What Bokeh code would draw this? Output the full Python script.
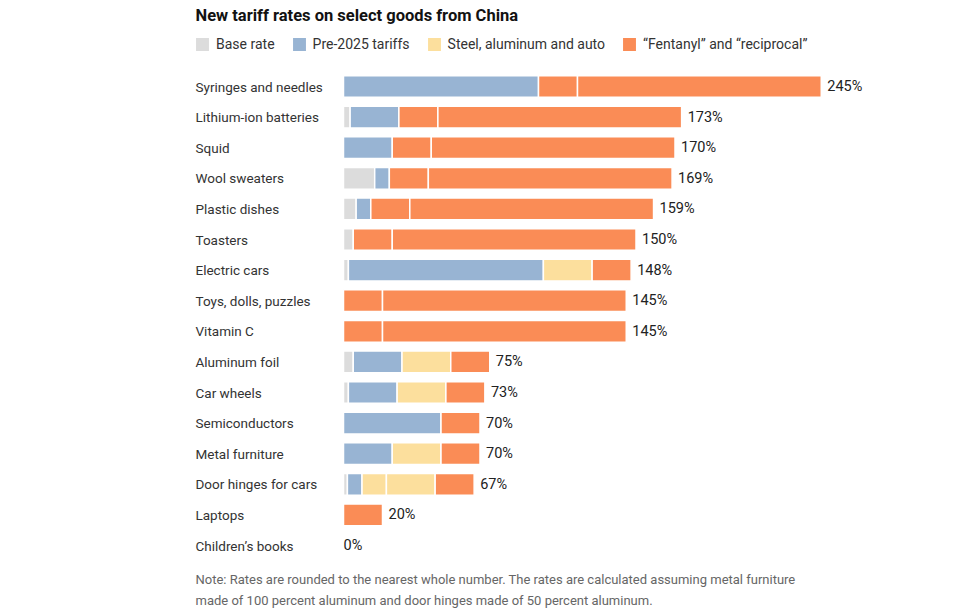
from bokeh.plotting import figure
from bokeh.models import Range1d, Label, Legend, LegendItem, ColumnDataSource
from bokeh.core.properties import value
from bokeh.embed import file_html
from bokeh.resources import INLINE

# ---------------- data ----------------
categories = ["Syringes and needles", "Lithium-ion batteries", "Squid", "Wool sweaters",
              "Plastic dishes", "Toasters", "Electric cars", "Toys, dolls, puzzles",
              "Vitamin C", "Aluminum foil", "Car wheels", "Semiconductors",
              "Metal furniture", "Door hinges for cars", "Laptops", "Children\u2019s books"]
base_rate  = [0, 3.4, 0, 16, 6.5, 5, 2.5, 0, 0, 5, 2.5, 0, 0, 2, 0, 0]
pre_2025   = [100, 25, 25, 7.5, 7.5, 0, 100, 0, 0, 25, 25, 50, 25, 7.5, 0, 0]
steel_alum = [0, 0, 0, 0, 0, 0, 0, 0, 0, 25, 0, 0, 25, 12.5, 0, 0]
auto       = [0, 0, 0, 0, 0, 0, 25, 0, 0, 0, 25, 0, 0, 25, 0, 0]
fentanyl   = [20, 20, 20, 20, 20, 20, 20, 20, 20, 20, 20, 20, 20, 20, 20, 0]
reciprocal = [125, 125, 125, 125, 125, 125, 0, 125, 125, 0, 0, 0, 0, 0, 0, 0]
total_labels = ["245%", "173%", "170%", "169%", "159%", "150%", "148%", "145%",
                "145%", "75%", "73%", "70%", "70%", "67%", "20%", "0%"]

series = [
    ("base", base_rate, "#dcdcdc"),
    ("pre", pre_2025, "#98b4d3"),
    ("steel", steel_alum, "#fcdf9d"),
    ("auto", auto, "#fcdf9d"),
    ("fent", fentanyl, "#fa8c56"),
    ("recip", reciprocal, "#fa8c56"),
]
legend_names = {"base": "Base rate", "pre": "Pre-2025 tariffs",
                "steel": "Steel, aluminum and auto",
                "fent": "\u201cFentanyl\u201d and \u201creciprocal\u201d"}

# ---------------- layout ----------------
W, H = 980, 614
PX = 1.95          # pixels per percentage point
X0 = 343           # pixel x of 0%
ROW0, STEP = 86, 30.6
FONT = "Roboto"
TXT = "#333333"

p = figure(width=W, height=H, output_backend="svg", toolbar_location=None,
           x_range=Range1d(-X0 / PX, (W - X0) / PX),
           y_range=Range1d((H - ROW0) / STEP, -ROW0 / STEP),
           x_axis_location=None, y_axis_location=None, min_border=0)
p.grid.visible = False
p.outline_line_color = None
p.background_fill_color = "white"
p.border_fill_color = "white"

n = len(categories)
idx = list(range(n))
cum = [0.0] * n
renderers = {}
for name, vals, color in series:
    ys, lefts, rights = [], [], []
    for i in idx:
        if vals[i] > 0:
            ys.append(i)
            lefts.append(cum[i])
            rights.append(cum[i] + vals[i])
        cum[i] += vals[i]
    src = ColumnDataSource(dict(y=ys, left=lefts, right=rights))
    r = p.hbar(y="y", left="left", right="right", height=0.71, source=src,
               fill_color=color, line_color="white", line_width=1.5)
    renderers[name] = r

totals = cum
offsets = [6 if t > 0 else 0 for t in totals]

p.text(x=[(195 - X0) / PX] * n, y=idx, text=categories, text_align="left",
       text_baseline="middle", text_font=value(FONT), text_font_size="13.5px",
       text_color=TXT)
p.text(x=totals, y=idx, text=total_labels, x_offset=offsets, text_align="left",
       text_baseline="middle", text_font=value(FONT), text_font_size="14.5px",
       text_color="#222222")

items = [LegendItem(label=legend_names[k], renderers=[renderers[k]])
         for k in ["base", "pre", "steel", "fent"]]
legend = Legend(items=items, orientation="horizontal", location=(193, H - 53),
                glyph_width=18, glyph_height=18, label_height=18, label_standoff=5,
                spacing=15, padding=0, margin=0, border_line_color=None,
                background_fill_alpha=0, label_text_font=FONT,
                label_text_font_size="14px", label_text_color=TXT)
p.add_layout(legend)

p.add_layout(Label(x=195, y=H - 15, x_units="screen", y_units="screen",
                   text="New tariff rates on select goods from China",
                   text_font=FONT, text_font_style="bold", text_font_size="16.5px",
                   text_color="#121212", text_baseline="middle"))
p.add_layout(Label(x=195, y=H - 579, x_units="screen", y_units="screen",
                   text="Note: Rates are rounded to the nearest whole number. The rates are calculated assuming metal furniture",
                   text_font=FONT, text_font_size="13px", text_color="#666666",
                   text_baseline="middle"))
p.add_layout(Label(x=195, y=H - 600, x_units="screen", y_units="screen",
                   text="made of 100 percent aluminum and door hinges made of 50 percent aluminum.",
                   text_font=FONT, text_font_size="13px", text_color="#666666",
                   text_baseline="middle"))

open("out.html", "w").write(file_html(p, INLINE))
